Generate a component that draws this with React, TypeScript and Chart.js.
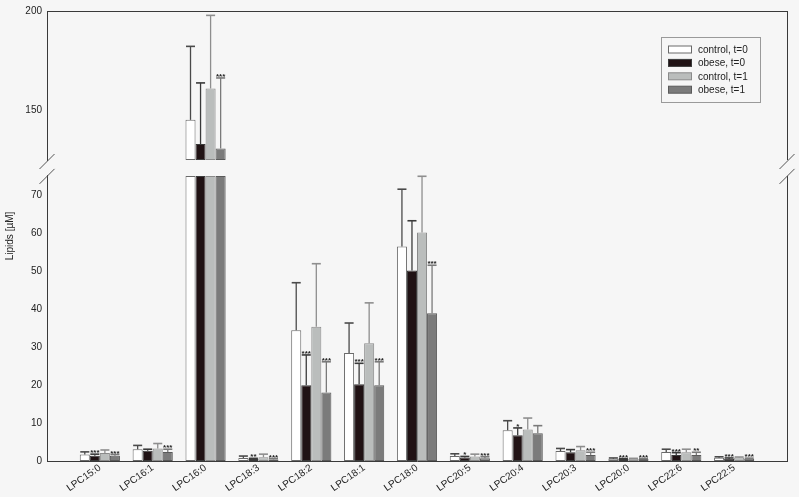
import React, { useEffect, useRef } from 'react';
import { Chart, registerables } from 'chart.js';

Chart.register(...registerables);

// ---------- data ----------
const CATEGORIES = [
  'LPC15:0', 'LPC16:1', 'LPC16:0', 'LPC18:3', 'LPC18:2', 'LPC18:1', 'LPC18:0',
  'LPC20:5', 'LPC20:4', 'LPC20:3', 'LPC20:0', 'LPC22:6', 'LPC22:5',
];

const CONTROL_T0 = [1.7, 3.1, 145.2, 0.8, 34.4, 28.4, 56.4, 1.3, 8.1, 2.6, 0.6, 2.4, 0.85];
const CONTROL_T0_SD = [0.7, 1.0, 37.0, 0.5, 12.5, 7.9, 15.1, 0.6, 2.5, 0.7, 0.2, 0.7, 0.25];

const OBESE_T0 = [1.4, 2.7, 133.0, 0.5, 19.9, 20.2, 50.1, 0.9, 6.8, 2.3, 0.5, 1.6, 0.6];
const OBESE_T0_SD = [0.4, 0.4, 30.8, 0.2, 8.0, 5.5, 13.1, 0.3, 1.9, 0.7, 0.1, 0.6, 0.2];

const CONTROL_T1 = [2.1, 3.3, 161.0, 1.0, 35.3, 31.0, 60.1, 1.2, 8.3, 2.8, 0.6, 2.3, 0.9];
const CONTROL_T1_SD = [0.8, 1.3, 36.8, 0.8, 16.6, 10.6, 14.8, 0.6, 3.0, 1.0, 0.1, 0.8, 0.15];

const OBESE_T1 = [1.4, 2.4, 130.8, 0.4, 18.0, 19.9, 38.9, 0.7, 7.3, 1.6, 0.5, 1.6, 0.6];
const OBESE_T1_SD = [0.3, 0.7, 35.5, 0.2, 8.1, 6.2, 12.6, 0.4, 2.0, 0.7, 0.1, 0.7, 0.15];

const OBESE_T0_SIG = ['***', '', '', '**', '***', '***', '', '*', '*', '', '***', '***', '***'];
const OBESE_T1_SIG = ['***', '***', '***', '***', '***', '***', '***', '***', '', '***', '***', '**', '***'];
const NO_SIG = CATEGORIES.map(() => '');

const SERIES_LABELS = ['control, t=0', 'obese, t=0', 'control, t=1', 'obese, t=1'];

const LOWER_TICKS = [0, 10, 20, 30, 40, 50, 60, 70];
const UPPER_TICKS = [150, 200];
const LOWER_MIN = 0;
const LOWER_MAX = 75;
const UPPER_MIN = 125;
const UPPER_MAX = 200;
const Y_TITLE = 'Lipids [µM]';

// ---------- styles ----------
const FONT = '"Liberation Sans", Arial, Helvetica, sans-serif';
const BG = '#f6f6f6';
const AXIS = '#3a3a3a';
const STYLES = [
  { fill: '#ffffff', border: '#6a6a6a', err: '#4a4a4a' },
  { fill: '#201214', border: '#3a3a3a', err: '#3a3a3a' },
  { fill: '#babdbc', border: '#8a8a8a', err: '#8e8e8e' },
  { fill: '#7b7b7b', border: '#5a5a5a', err: '#7a7a7a' },
];

const SERIES = [
  { label: SERIES_LABELS[0], values: CONTROL_T0, sd: CONTROL_T0_SD, sig: NO_SIG },
  { label: SERIES_LABELS[1], values: OBESE_T0, sd: OBESE_T0_SD, sig: OBESE_T0_SIG },
  { label: SERIES_LABELS[2], values: CONTROL_T1, sd: CONTROL_T1_SD, sig: NO_SIG },
  { label: SERIES_LABELS[3], values: OBESE_T1, sd: OBESE_T1_SD, sig: OBESE_T1_SIG },
];

// padded category axis (empty slot on each side)
const LABELS = ['', ...CATEGORIES, ''];
const pad = (arr: (number | null)[]) => [null, ...arr, null];

const overlayPlugin = {
  id: 'overlay',
  beforeDraw(chart: any) {
    const { ctx, width, height } = chart;
    ctx.save();
    ctx.fillStyle = BG;
    ctx.fillRect(0, 0, width, height);
    ctx.restore();
  },
  afterDatasetsDraw(chart: any) {
    const { ctx } = chart;
    const yBot = chart.scales.yBot;
    const yTop = chart.scales.yTop;
    ctx.save();
    SERIES.forEach((s, si) => {
      s.values.forEach((v, j) => {
        const upper = v > UPPER_MIN;
        const meta = chart.getDatasetMeta(upper ? SERIES.length + si : si);
        const el: any = meta.data[j + 1];
        if (!el) return;
        const scale = upper ? yTop : yBot;
        const x = el.x;
        const w = el.width;
        const y0 = scale.getPixelForValue(v);
        const y1 = scale.getPixelForValue(v + s.sd[j]);
        ctx.strokeStyle = STYLES[si].err;
        ctx.lineWidth = 1.3;
        ctx.beginPath();
        ctx.moveTo(x, y0);
        ctx.lineTo(x, y1);
        ctx.stroke();
        ctx.lineWidth = 1.6;
        ctx.beginPath();
        ctx.moveTo(x - w * 0.45, y1);
        ctx.lineTo(x + w * 0.45, y1);
        ctx.stroke();
        const sig = s.sig[j];
        if (sig) {
          ctx.fillStyle = '#222';
          ctx.font = `bold 8px ${FONT}`;
          ctx.textAlign = 'center';
          ctx.textBaseline = 'alphabetic';
          ctx.fillText(sig, x, y1 + 1);
        }
      });
    });
    ctx.restore();
  },
  afterDraw(chart: any) {
    const { ctx, chartArea } = chart;
    const yBot = chart.scales.yBot;
    const yTop = chart.scales.yTop;
    const L = chartArea.left;
    const R = chartArea.right;
    const T = chartArea.top;
    const B = chartArea.bottom;
    ctx.save();
    ctx.strokeStyle = AXIS;
    ctx.lineWidth = 1;
    // top frame line
    ctx.beginPath();
    ctx.moveTo(L, T + 0.5);
    ctx.lineTo(R, T + 0.5);
    ctx.stroke();
    // right frame (broken)
    ctx.beginPath();
    ctx.moveTo(R + 0.5, T);
    ctx.lineTo(R + 0.5, yTop.bottom);
    ctx.moveTo(R + 0.5, yBot.top);
    ctx.lineTo(R + 0.5, B);
    ctx.stroke();
    // break marks
    ctx.strokeStyle = '#555';
    ctx.lineWidth = 1;
    [L, R].forEach((x) => {
      [yTop.bottom + 1.5, yBot.top + 0.5].forEach((y) => {
        ctx.beginPath();
        ctx.moveTo(x - 7.5, y + 7.5);
        ctx.lineTo(x + 7.5, y - 7.5);
        ctx.stroke();
      });
    });
    // y title
    ctx.fillStyle = '#222';
    ctx.font = `10px ${FONT}`;
    ctx.textAlign = 'center';
    ctx.textBaseline = 'middle';
    ctx.translate(10, (T + B) / 2);
    ctx.rotate(-Math.PI / 2);
    ctx.fillText(Y_TITLE, 0, 0);
    ctx.setTransform(1, 0, 0, 1, 0, 0);
    // legend
    const bx = R - 126;
    const by = T + 26;
    const bw = 99;
    const bh = 65;
    ctx.fillStyle = BG;
    ctx.fillRect(bx, by, bw, bh);
    ctx.strokeStyle = '#9a9a9a';
    ctx.lineWidth = 1;
    ctx.strokeRect(bx + 0.5, by + 0.5, bw, bh);
    ctx.font = `10px ${FONT}`;
    ctx.textAlign = 'left';
    ctx.textBaseline = 'middle';
    SERIES.forEach((s, i) => {
      const cy = by + 12.5 + i * 13.4;
      ctx.fillStyle = STYLES[i].fill;
      ctx.fillRect(bx + 7, cy - 3.5, 24, 7);
      ctx.strokeStyle = STYLES[i].border;
      ctx.strokeRect(bx + 7.5, cy - 3.5, 23, 7);
      ctx.fillStyle = '#222';
      ctx.fillText(s.label, bx + 37, cy + 0.5);
    });
    ctx.restore();
  },
};

export default function App() {
  const ref = useRef<HTMLCanvasElement | null>(null);

  useEffect(() => {
    document.body.style.margin = '0';
    document.body.style.background = BG;
    const canvas = ref.current;
    if (!canvas) return;

    const lowerSets = SERIES.map((s, i) => ({
      label: s.label,
      data: pad(s.values.map((v) => Math.min(v, LOWER_MAX))),
      yAxisID: 'yBot',
      stack: 's' + i,
      backgroundColor: STYLES[i].fill,
      borderColor: STYLES[i].border,
      borderWidth: 1,
      borderSkipped: false,
    }));
    const upperSets = SERIES.map((s, i) => ({
      label: s.label + ' (upper)',
      data: pad(s.values.map((v) => (v > UPPER_MIN ? v : null))),
      yAxisID: 'yTop',
      stack: 's' + i,
      base: UPPER_MIN,
      backgroundColor: STYLES[i].fill,
      borderColor: STYLES[i].border,
      borderWidth: 1,
      borderSkipped: false,
    }));

    const tickFont = { family: FONT, size: 10 };

    const chart = new Chart(canvas, {
      type: 'bar',
      data: { labels: LABELS, datasets: [...lowerSets, ...upperSets] as any },
      options: {
        animation: false,
        responsive: false,
        devicePixelRatio: 1,
        layout: { padding: { top: 8, right: 12, left: 0, bottom: 0 } },
        datasets: { bar: { categoryPercentage: 0.76, barPercentage: 1 } },
        plugins: { legend: { display: false }, tooltip: { enabled: false } },
        scales: {
          x: {
            type: 'category',
            offset: false,
            grid: { display: false, drawTicks: false },
            border: { display: true, color: AXIS, width: 1 },
            ticks: {
              autoSkip: false,
              minRotation: 35,
              maxRotation: 35,
              padding: 1,
              color: '#222',
              font: tickFont,
            },
            afterFit: (s: any) => { s.height = 36; },
          },
          yBot: {
            type: 'linear',
            position: 'left',
            stack: 'y',
            stackWeight: 287,
            min: LOWER_MIN,
            max: LOWER_MAX,
            grid: { display: false, drawTicks: false },
            border: { display: true, color: AXIS, width: 1 },
            ticks: { padding: 5, color: '#222', font: tickFont },
            afterBuildTicks: (s: any) => { s.ticks = LOWER_TICKS.map((v) => ({ value: v })); },
            afterFit: (s: any) => { s.width = 47; },
          },
          yGap: {
            type: 'linear',
            position: 'left',
            stack: 'y',
            stackWeight: 16,
            display: false,
          },
          yTop: {
            type: 'linear',
            position: 'left',
            stack: 'y',
            stackWeight: 150,
            min: UPPER_MIN,
            max: UPPER_MAX,
            grid: { display: false, drawTicks: false },
            border: { display: true, color: AXIS, width: 1 },
            ticks: { padding: 5, color: '#222', font: tickFont },
            afterBuildTicks: (s: any) => { s.ticks = UPPER_TICKS.map((v) => ({ value: v })); },
            afterFit: (s: any) => { s.width = 47; },
          },
        } as any,
      },
      plugins: [overlayPlugin],
    });

    return () => chart.destroy();
  }, []);

  return (
    <div style={{ position: 'absolute', left: 0, top: 0, width: 799, height: 497, background: BG }}>
      <canvas ref={ref} width={799} height={497} style={{ display: 'block', width: 799, height: 497 }} />
    </div>
  );
}
